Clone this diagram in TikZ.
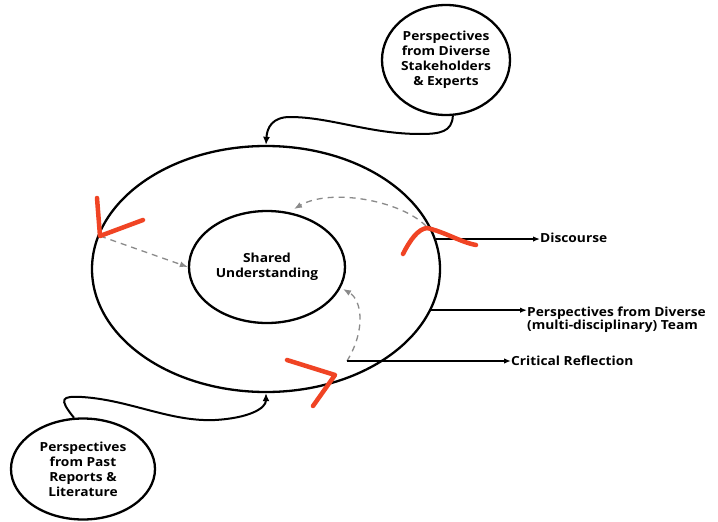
\documentclass[tikz,border=0pt]{standalone}
\usepackage{fontspec}
\setmainfont{Open Sans}[FakeStretch=1.1]
\usetikzlibrary{shapes.geometric,arrows.meta}
\definecolor{redmark}{HTML}{F04424}
\definecolor{dashgray}{HTML}{8A8A8A}
\tikzset{
  ring/.style={draw=black, line width=2.3pt, ellipse, inner sep=0pt, align=center, font=\bfseries\fontsize{12.5}{15}\selectfont},
  feed/.style={draw=black, line width=2pt, -{Latex[length=8pt,width=7pt]}},
  lbl/.style={font=\bfseries\fontsize{12.5}{13.5}\selectfont, inner sep=0pt, align=left},
  lblarrow/.style={draw=black, line width=1.4pt, -{Latex[length=7pt,width=5.5pt]}},
  redstroke/.style={draw=redmark, line width=4.5pt, line cap=round, line join=round},
  dasharrow/.style={draw=dashgray, line width=1.3pt, dash pattern=on 6pt off 5pt, -{Latex[length=8pt,width=6pt]}}
}
\begin{document}
\begin{tikzpicture}[x=1pt,y=-1pt]
\useasboundingbox (0,0) rectangle (718,522);
\fill[white] (0,0) rectangle (718,522);

\node[ring, minimum width=348pt, minimum height=246pt] (outer) at (266,269) {};
\node[ring, minimum width=156pt, minimum height=112pt] (inner) at (267,267) {Shared\\Understanding};
\node[ring, minimum width=128pt, minimum height=110pt] (top) at (446,60) {Perspectives\\from Diverse\\Stakeholders\\\& Experts};
\node[ring, minimum width=144pt, minimum height=101pt] (past) at (83,469) {Perspectives\\from Past\\Reports \&\\Literature};

% labels
\node[lbl, anchor=west] (disc) at (540,238) {Discourse};
\node[lbl, anchor=north west] (team) at (527,306.5) {Perspectives from Diverse\\(multi-disciplinary) Team};
\node[lbl, anchor=west] (crit) at (511,361) {Critical Reflection};

% feed arrows
\draw[feed] (top.-83) .. controls (452,132) and (440,134) .. (420,134)
  .. controls (370,134) and (330,117) .. (290,117)
  .. controls (272,117) and (267,128) .. (outer.north);
\draw[feed] (past.100) .. controls (58,398) and (62,396) .. (82,397)
  .. controls (130,400) and (170,422) .. (215,420)
  .. controls (250,418) and (266,408) .. (outer.south);

% coordinates
\coordinate (leftv) at (100,236);
\coordinate (rightv) at (426,226);
\coordinate (botv) at (347,361);

% dashed arrows
\draw[dasharrow] (leftv) -- (inner.west);
\draw[dasharrow] (rightv) .. controls (400,200) and (330,188) .. (294,209);
\draw[dasharrow] (botv) .. controls (366,330) and (362,300) .. (343,289);

% label arrows
\draw[lblarrow] (outer.10.4) -- (outer.10.4 -| disc.west);
\draw[lblarrow] (outer.-14.6) -- (outer.-14.6 -| team.west);
\draw[lblarrow] (botv) -- (botv -| crit.west);

% red marks
\draw[redstroke] (97,198) -- (100,236) -- (143,220);
\draw[redstroke] (403,254) .. controls (410,240) and (418,229) .. (427,228)
  .. controls (445,232) and (460,242) .. (476,245);
\draw[redstroke] (287,360) -- (335,375) -- (313,406);
\end{tikzpicture}
\end{document}
